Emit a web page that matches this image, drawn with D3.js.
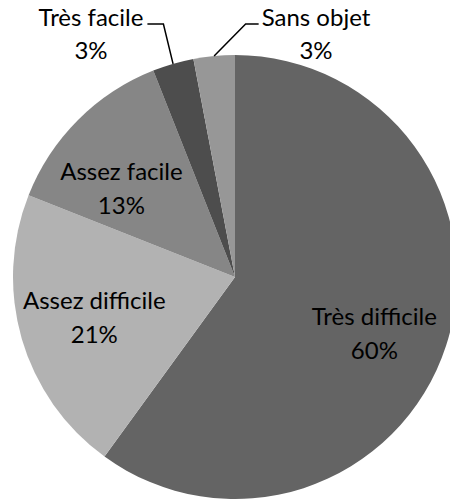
<!DOCTYPE html>
<html lang="fr">
  <head>
    <meta charset="UTF-8" />
    <script src="https://d3js.org/d3.v7.min.js"></script>
    <title>Pie</title>
    <style>
      body { margin: 0; background: #fff; }
      text { font-family: Lato, "Liberation Sans", sans-serif; fill: #000; }
    </style>
  </head>
  <body>
  </body>
</html>
<script>
const width = 450;
const height = 499;

// data (clockwise from 12 o'clock)
const categories = ["Très difficile", "Assez difficile", "Assez facile", "Très facile", "Sans objet"];
const values = [60, 21, 13, 3, 3];
const shades = ["#646464", "#b2b2b2", "#868686", "#4d4d4d", "#979797"];

// layout: labels that sit outside with a leader line, small nudges for the inside ones
const outside = { "Très facile": { x: 91, y: 26, side: "left" }, "Sans objet": { x: 316, y: 26, side: "right" } };
const nudge = { "Très difficile": [0, 12], "Assez difficile": [0, 0], "Assez facile": [-10, 16] };

const cx = 235, cy = 277, radius = 222;
const fontSize = 24;

const svg = d3.select("body").append("svg")
  .attr("width", width)
  .attr("height", height);

const g = svg.append("g").attr("transform", "translate(" + cx + "," + cy + ")");

const color = d3.scaleOrdinal().domain(categories).range(shades);

const pie = d3.pie().sort(null).value((d, i) => values[i]);
const arcs = pie(categories);

const arc = d3.arc().innerRadius(0).outerRadius(radius);
const labelArc = d3.arc().innerRadius(radius * 0.66).outerRadius(radius * 0.66);
const edgeArc = d3.arc().innerRadius(radius).outerRadius(radius);

g.selectAll(".slice")
  .data(arcs)
  .enter()
  .append("path")
  .attr("class", "slice")
  .attr("d", arc)
  .attr("fill", d => color(d.data));

// inside labels
arcs.filter(d => !outside[d.data]).forEach(d => {
  const c = labelArc.centroid(d);
  const n = nudge[d.data] || [0, 0];
  const t = g.append("text")
    .attr("text-anchor", "middle")
    .style("font-size", fontSize + "px");
  t.append("tspan").attr("x", c[0] + n[0]).attr("y", c[1] + n[1] - 9).text(d.data);
  t.append("tspan").attr("x", c[0] + n[0]).attr("y", c[1] + n[1] + 25).text(values[d.index] + "%");
});

// outside labels with leader lines
arcs.filter(d => outside[d.data]).forEach(d => {
  const o = outside[d.data];
  const t = svg.append("text")
    .attr("text-anchor", "middle")
    .style("font-size", fontSize + "px");
  t.append("tspan").attr("x", o.x).attr("y", o.y).text(d.data);
  t.append("tspan").attr("x", o.x).attr("y", o.y + 33).text(values[d.index] + "%");

  const w = t.select("tspan").node().getComputedTextLength();
  const edge = edgeArc.centroid(d);
  const startX = o.side === "left" ? o.x + w / 2 + 4 : o.x - w / 2 - 3;
  const bendX = o.side === "left" ? startX + 16 : startX - 13;
  svg.append("path")
    .attr("fill", "none")
    .attr("stroke", "#000")
    .attr("stroke-width", 1.5)
    .attr("d", d3.line()([[startX, o.y - 2], [bendX, o.y - 2], [cx + edge[0], cy + edge[1]]]));
});
</script>
